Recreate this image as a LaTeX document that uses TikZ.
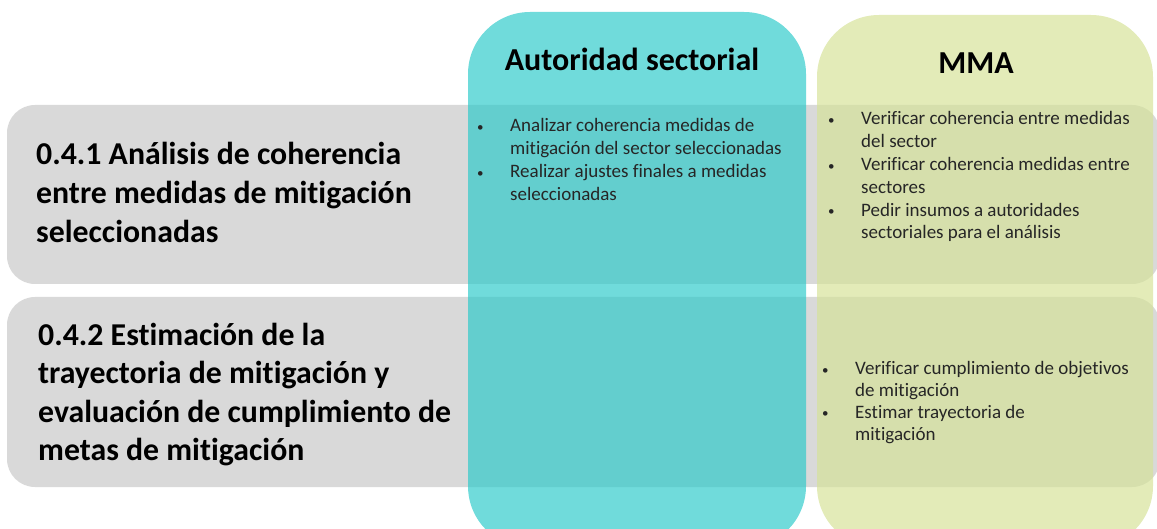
\documentclass[tikz,border=0pt]{standalone}
\usepackage{fontspec}
\setmainfont{Carlito}[Ligatures=NoCommon]
\definecolor{rowgray}{RGB}{217,217,217}
\definecolor{tealc}{RGB}{44,202,202}
\definecolor{greenc}{RGB}{213,226,151}
\definecolor{listgray}{RGB}{38,38,38}
\newcommand\bulx{\makebox[33pt][l]{\fontsize{13}{13}\selectfont\raisebox{0.5pt}{\textbullet}}}
\newcommand\indx{\hspace*{33pt}}
\begin{document}
\begin{tikzpicture}[x=1pt,y=-1pt,
  rowbox/.style={fill=rowgray,draw=none,rounded corners=28pt},
  colbox/.style={draw=none,rounded corners=62pt,fill opacity=0.68},
  headtext/.style={font=\fontsize{32}{36}\selectfont\bfseries,text=black,inner sep=0pt,anchor=base},
  rowtext/.style={font=\fontsize{31.8}{38.6}\selectfont\bfseries,text=black,align=left,anchor=base west,inner sep=0pt},
  listtext/.style={font=\fontsize{19}{22.8}\selectfont,text=listgray,align=left,anchor=base west,inner sep=0pt},
  listnarrow/.style={listtext,font=\fontsize{19}{21.7}\selectfont}]
\useasboundingbox (0,0) rectangle (1157,529);
\clip (0,0) rectangle (1157,529);
% rows
\path[rowbox] (7,105) rectangle (1160,284);
\path[rowbox] (7,297) rectangle (1160,487);
% columns
\path[colbox,fill=tealc] (468,12) rectangle (806,548);
\path[colbox,fill=greenc] (817,15) rectangle (1153,548);
% headings
\node[headtext] (hA) at (632,71) {Autoridad sectorial};
\node[headtext] (hM) at (976,74) {MMA};
% row labels (base anchor = last line)
\node[rowtext] (r1) at (36,242.2) {0.4.1 Análisis de coherencia\\entre medidas de mitigación\\seleccionadas};
\node[rowtext] (r2) at (38,460.8) {0.4.2 Estimación de la\\trayectoria de mitigación y\\evaluación de cumplimiento de\\metas de mitigación};
% lists
\node[listtext] (la) at (477,200.4) {\bulx Analizar coherencia medidas de\\\indx mitigación del sector seleccionadas\\\bulx Realizar ajustes finales a medidas\\\indx seleccionadas};
\node[listtext] (lm1) at (828,239) {\bulx Verificar coherencia entre medidas\\\indx del sector\\\bulx Verificar coherencia medidas entre\\\indx sectores\\\bulx Pedir insumos a autoridades\\\indx sectoriales para el análisis};
\node[listnarrow] (lm2) at (822,440) {\bulx Verificar cumplimiento de objetivos\\\indx de mitigación\\\bulx Estimar trayectoria de\\\indx mitigación};
\end{tikzpicture}
\end{document}
